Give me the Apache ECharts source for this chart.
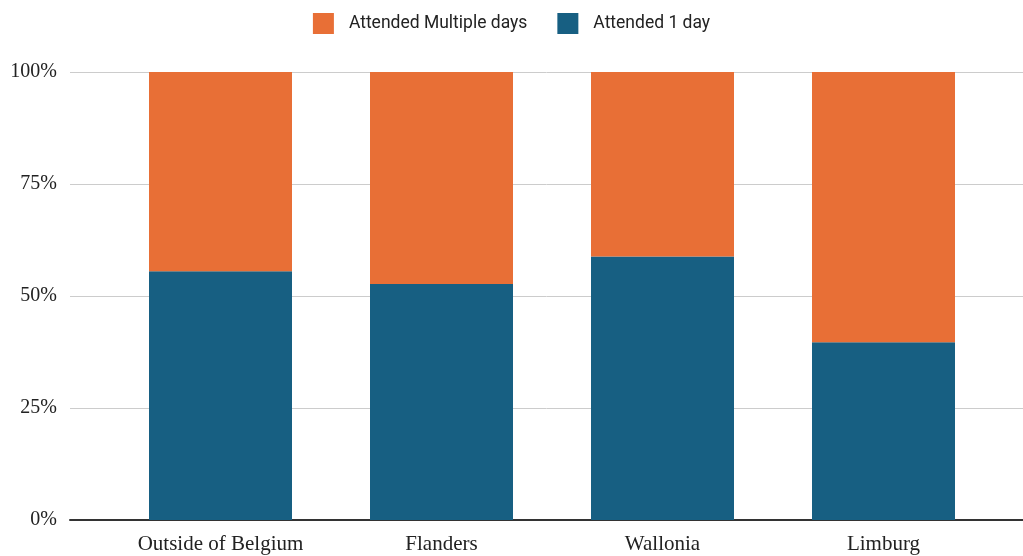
<!DOCTYPE html>
<html>
<head>
<meta charset="utf-8">
<script src="https://cdn.jsdelivr.net/npm/echarts@6/dist/echarts.min.js"></script>
<style>
  html, body { margin: 0; padding: 0; background: #fff; }
  #chart { width: 1023px; height: 556px; }
</style>
</head>
<body>
<div id="chart"></div>
<script>
const categories = ['Outside of Belgium', 'Flanders', 'Wallonia', 'Limburg'];
const oneDay = [55.5, 52.7, 58.8, 39.7];
const multipleDays = [44.5, 47.3, 41.2, 60.3];
const yTicks = [0, 25, 50, 75, 100];

const serif = '"Liberation Serif", "DejaVu Serif", serif';
const sans = '"Liberation Sans Narrow", "Roboto", "Liberation Sans", sans-serif';

const chart = echarts.init(document.getElementById('chart'));

chart.setOption({
  animation: false,
  legend: {
    top: 8,
    left: 'center',
    itemWidth: 21,
    itemHeight: 21,
    itemGap: 30,
    icon: 'rect',
    itemStyle: { borderRadius: 3 },
    data: ['Attended Multiple days', 'Attended 1 day'],
    textStyle: {
      fontFamily: sans,
      fontSize: 17.5,
      color: '#222',
      padding: [0, 0, 0, 10]
    }
  },
  // grid 0: full-width gridlines, y labels, bottom axis line
  // grid 1: narrower band where the bars sit
  grid: [
    { left: 70, right: 0, top: 72, bottom: 36 },
    { left: 110, right: 29, top: 72, bottom: 36 }
  ],
  xAxis: [{
    gridIndex: 0,
    type: 'value',
    min: 0,
    max: 1,
    splitLine: { show: false },
    axisTick: { show: false },
    axisLabel: { show: false },
    axisLine: { show: true, lineStyle: { color: '#333', width: 2 } }
  }, {
    gridIndex: 1,
    type: 'category',
    data: categories,
    axisLine: { show: false },
    axisTick: { show: false },
    axisLabel: {
      fontFamily: serif,
      fontSize: 21,
      color: '#222',
      margin: 14
    }
  }],
  yAxis: [{
    gridIndex: 0,
    type: 'value',
    min: yTicks[0],
    max: yTicks[yTicks.length - 1],
    interval: 25,
    axisLine: { show: false },
    axisTick: { show: false },
    splitLine: { lineStyle: { color: '#cccccc', width: 1 } },
    axisLabel: {
      formatter: '{value}%',
      fontFamily: serif,
      fontSize: 20,
      color: '#222',
      margin: 13
    }
  }, {
    gridIndex: 1,
    type: 'value',
    min: 0,
    max: 100,
    show: false
  }],
  series: [{
    name: 'Attended 1 day',
    type: 'bar',
    xAxisIndex: 1,
    yAxisIndex: 1,
    stack: 'total',
    barWidth: 143,
    data: oneDay,
    itemStyle: { color: '#175f82' }
  }, {
    name: 'Attended Multiple days',
    type: 'bar',
    xAxisIndex: 1,
    yAxisIndex: 1,
    stack: 'total',
    barWidth: 143,
    data: multipleDays,
    itemStyle: { color: '#e86f36' }
  }]
});
</script>
</body>
</html>
